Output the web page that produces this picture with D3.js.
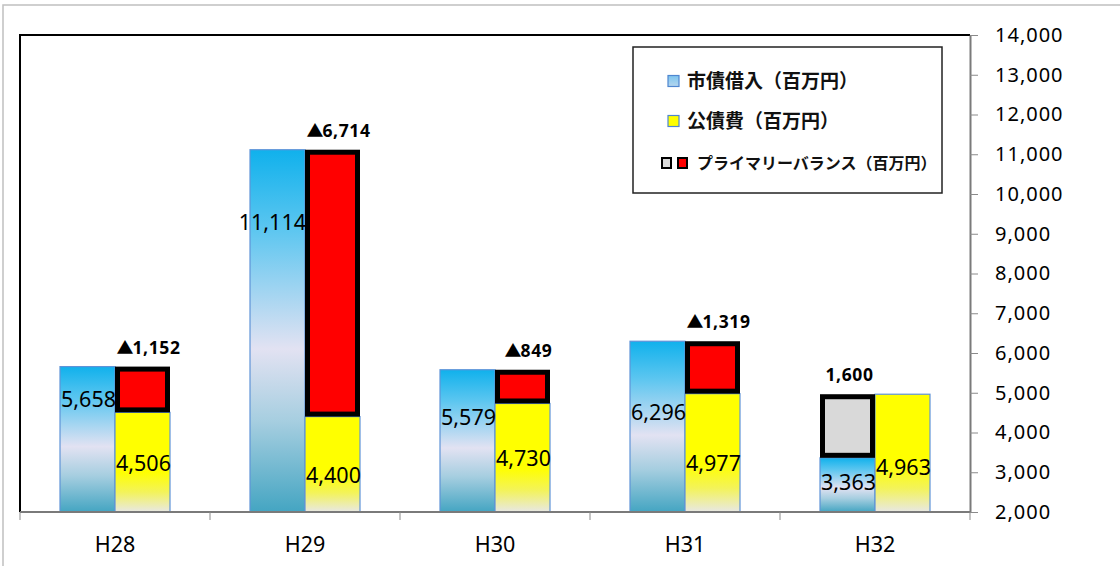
<!DOCTYPE html>
<html><head><meta charset="utf-8">
<script src="https://cdn.jsdelivr.net/npm/d3@7"></script>
<style>
html,body{margin:0;padding:0;background:#fff;}
svg{display:block;}
</style></head>
<body>
<svg id="chart" width="1120" height="566"></svg>
<script>
// ---- data ----
const categories = ["H28", "H29", "H30", "H31", "H32"];
const borrowing = [5658, 11114, 5579, 6296, 3363];      // 市債借入（百万円）
const debtService = [4506, 4400, 4730, 4977, 4963];     // 公債費（百万円）
const primaryBalance = [-1152, -6714, -849, -1319, 1600]; // プライマリーバランス（百万円）
const yTicks = [2000, 3000, 4000, 5000, 6000, 7000, 8000, 9000, 10000, 11000, 12000, 13000, 14000];
const legendLabels = ["市債借入（百万円）", "公債費（百万円）", "プライマリーバランス（百万円）"];

// label anchor values (data units) as placed in the original chart
const borrowLabelAt = [4843, 9296, 4390, 4516, 2755];
const debtLabelAt = [3233, 2931, 3358, 3233, 3132];

// ---- layout ----
const svg = d3.select("#chart");
const L = 20, R = 970, T = 35, B = 512;
const NUM_FONT = "'Noto Sans', 'Open Sans', sans-serif";
const JP_FONT = "'Noto Sans CJK JP', 'Noto Sans', sans-serif";

const x = d3.scaleBand().domain(categories).range([L, R]).padding(0);
const xs = d3.scaleBand().domain(["borrow", "debt"]).range([40, 150]).padding(0);
const y = d3.scaleLinear().domain([2000, 14000]).range([B, T]);
const fmt = d3.format(",");

const defs = svg.append("defs");
const gB = defs.append("linearGradient").attr("id", "gBlue").attr("x1", 0).attr("y1", 0).attr("x2", 0).attr("y2", 1);
[[0, "#10b1ec"], [0.22, "#5cc6f0"], [0.55, "#e2e2f2"], [0.75, "#a6cee0"], [1, "#44a5c2"]]
  .forEach(s => gB.append("stop").attr("offset", s[0]).attr("stop-color", s[1]));
const gY = defs.append("linearGradient").attr("id", "gYellow").attr("x1", 0).attr("y1", 0).attr("x2", 0).attr("y2", 1);
[[0, "#ffff00"], [0.6, "#ffff00"], [0.8, "#f3f35a"], [1, "#e8e8e4"]]
  .forEach(s => gY.append("stop").attr("offset", s[0]).attr("stop-color", s[1]));
const gL = defs.append("linearGradient").attr("id", "gLeg").attr("x1", 0).attr("y1", 0).attr("x2", 0).attr("y2", 1);
[[0, "#7cc4ee"], [1, "#b5d6ee"]].forEach(s => gL.append("stop").attr("offset", s[0]).attr("stop-color", s[1]));

// outer frame
svg.append("rect").attr("x", 3).attr("y", 5).attr("width", 1130).attr("height", 580)
  .attr("fill", "none").attr("stroke", "#c0c0c0").attr("stroke-width", 1.5);

// bars
const rows = categories.map((c, i) => ({c, i, b: borrowing[i], d: debtService[i], pb: primaryBalance[i]}));

const g = svg.append("g");
g.selectAll("rect.borrow").data(rows).join("rect").attr("class", "borrow")
  .attr("x", r => x(r.c) + xs("borrow")).attr("width", xs.bandwidth())
  .attr("y", r => y(r.b)).attr("height", r => y(2000) - y(r.b))
  .attr("fill", "url(#gBlue)").attr("stroke", "#5f93d8").attr("stroke-width", 1.2);
g.selectAll("rect.debt").data(rows).join("rect").attr("class", "debt")
  .attr("x", r => x(r.c) + xs("debt")).attr("width", xs.bandwidth())
  .attr("y", r => y(r.d)).attr("height", r => y(2000) - y(r.d))
  .attr("fill", "url(#gYellow)").attr("stroke", "#5f93d8").attr("stroke-width", 1.2);

// primary balance boxes
const SW = 5;
g.selectAll("rect.pb").data(rows).join("rect").attr("class", "pb")
  .attr("x", r => x(r.c) + xs(r.b < r.d ? "borrow" : "debt") + SW / 2)
  .attr("width", xs.bandwidth() - SW)
  .attr("y", r => y(Math.max(r.b, r.d)) + SW / 2)
  .attr("height", r => y(Math.min(r.b, r.d)) - y(Math.max(r.b, r.d)) - SW)
  .attr("fill", r => r.pb < 0 ? "#ff0000" : "#d9d9d9")
  .attr("stroke", "#000").attr("stroke-width", SW);

// value labels
g.selectAll("text.bl").data(rows).join("text").attr("class", "bl")
  .attr("x", r => x(r.c) + xs("borrow") + xs.bandwidth() + 1)
  .attr("y", r => y(borrowLabelAt[r.i])).attr("dy", "0.35em")
  .attr("text-anchor", "end").attr("font-family", NUM_FONT).attr("font-size", 21.5)
  .attr("fill", "#000").text(r => fmt(r.b));
g.selectAll("text.dl").data(rows).join("text").attr("class", "dl")
  .attr("x", r => x(r.c) + xs("debt") + 1)
  .attr("y", r => y(debtLabelAt[r.i])).attr("dy", "0.35em")
  .attr("text-anchor", "start").attr("font-family", NUM_FONT).attr("font-size", 21.5)
  .attr("fill", "#000").text(r => fmt(r.d));
const pl = g.selectAll("text.pl").data(rows).join("text").attr("class", "pl")
  .attr("x", r => x(r.c) + xs(r.b < r.d ? "borrow" : "debt") + xs.bandwidth() / 2 + (r.pb < 0 ? 6 : 2))
  .attr("y", r => y(Math.max(r.b, r.d)) - 19).attr("dy", "0.35em")
  .attr("text-anchor", "middle").attr("font-family", NUM_FONT).attr("font-size", 17.5)
  .attr("font-weight", "bold").attr("letter-spacing", 0.6).attr("fill", "#000");
pl.filter(r => r.pb < 0).append("tspan").attr("font-family", JP_FONT).attr("font-size", 17).attr("letter-spacing", -1).text("▲");
pl.append("tspan").text(r => fmt(Math.abs(r.pb)));

// plot frame (left & top)
svg.append("path").attr("d", `M${L},${B}V${T}H${R}`).attr("fill", "none")
  .attr("stroke", "#000").attr("stroke-width", 2);

// bottom axis line + boundary ticks
svg.append("line").attr("x1", L).attr("x2", R).attr("y1", B).attr("y2", B)
  .attr("stroke", "#7a7a7a").attr("stroke-width", 2);
const edges = categories.map(c => x(c)).concat([x.range()[1]]);
svg.selectAll("line.xt").data(edges).join("line").attr("class", "xt")
  .attr("x1", d => d).attr("x2", d => d).attr("y1", B).attr("y2", B + 8)
  .attr("stroke", "#8a8a8a").attr("stroke-width", 1);

const xAxis = svg.append("g").attr("transform", `translate(0,${B})`)
  .call(d3.axisBottom(x).tickSize(0).tickPadding(25));
xAxis.select(".domain").remove();
xAxis.selectAll("text").attr("font-family", NUM_FONT).attr("font-size", 21.5).attr("fill", "#000");

// right axis
const yAxis = svg.append("g").attr("transform", `translate(${R},0)`)
  .call(d3.axisRight(y).tickValues(yTicks).tickFormat(fmt).tickSize(8).tickSizeOuter(0).tickPadding(17));
yAxis.select(".domain").attr("stroke", "#7a7a7a").attr("stroke-width", 2);
yAxis.selectAll(".tick line").attr("stroke", "#8a8a8a").attr("stroke-width", 1);
yAxis.selectAll("text").attr("font-family", NUM_FONT).attr("font-size", 20)
  .attr("letter-spacing", 1).attr("fill", "#000");

// legend
const lg = svg.append("g");
lg.append("rect").attr("x", 633).attr("y", 47).attr("width", 309).attr("height", 146)
  .attr("fill", "#fff").attr("stroke", "#222").attr("stroke-width", 1.5);
lg.append("rect").attr("x", 668).attr("y", 75.5).attr("width", 11).attr("height", 11)
  .attr("fill", "url(#gLeg)").attr("stroke", "#4f86d0").attr("stroke-width", 1.2);
lg.append("rect").attr("x", 668).attr("y", 115.5).attr("width", 11).attr("height", 11)
  .attr("fill", "#ffff00").attr("stroke", "#4f86d0").attr("stroke-width", 1.2);
lg.append("rect").attr("x", 662).attr("y", 158).attr("width", 9).attr("height", 10)
  .attr("fill", "#d9d9d9").attr("stroke", "#000").attr("stroke-width", 2);
lg.append("rect").attr("x", 678).attr("y", 158).attr("width", 9).attr("height", 10)
  .attr("fill", "#ff0000").attr("stroke", "#000").attr("stroke-width", 2);
const legPos = [[687, 81, 19], [687, 121, 19], [697, 163, 16]];
lg.selectAll("text.lt").data(legendLabels).join("text").attr("class", "lt")
  .attr("x", (d, i) => legPos[i][0]).attr("y", (d, i) => legPos[i][1]).attr("dy", "0.36em")
  .attr("font-family", JP_FONT).attr("font-size", (d, i) => legPos[i][2])
  .attr("font-weight", "bold").attr("fill", "#111").text(d => d);
</script>
</body></html>
